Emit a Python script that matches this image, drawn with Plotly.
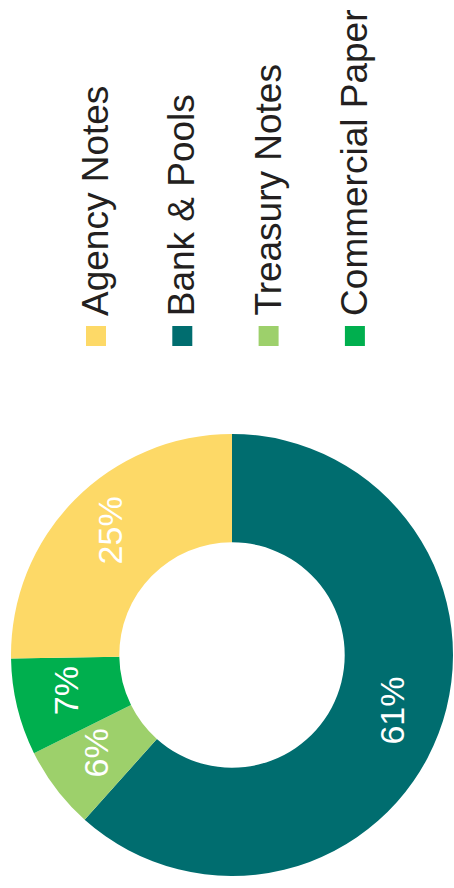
import math
import plotly.graph_objects as go

# ---- data ----
categories = ["Agency Notes", "Bank & Pools", "Treasury Notes", "Commercial Paper"]
values = [25, 61, 6, 7]
colors = ["#FDD967", "#006D6F", "#9DD06B", "#00AF4E"]
# clockwise order of the slices starting at 12 o'clock
pie_order = ["Bank & Pools", "Treasury Notes", "Commercial Paper", "Agency Notes"]

W, H = 454, 888
CX, CY = 232, 655          # donut centre in pixels (from top-left)
R_OUT = 221
HOLE = 0.51
R_IN = R_OUT * HOLE

idx = [categories.index(c) for c in pie_order]
p_labels = [categories[i] for i in idx]
p_values = [values[i] for i in idx]
p_colors = [colors[i] for i in idx]

fig = go.Figure()
fig.add_trace(go.Pie(
    labels=p_labels,
    values=p_values,
    marker=dict(colors=p_colors, line=dict(width=0)),
    hole=HOLE,
    sort=False,
    direction="clockwise",
    rotation=0,
    textinfo="none",
    hoverinfo="skip",
    showlegend=False,
    domain=dict(x=[(CX - R_OUT) / W, (CX + R_OUT) / W],
                y=[(H - CY - R_OUT) / H, (H - CY + R_OUT) / H]),
))

annotations = []
shapes = []

# percentage labels, rotated, at the middle of each slice
total = sum(p_values)
cum = 0.0
r_mid = (R_OUT + R_IN) / 2 + 4
for lab, v in zip(p_labels, p_values):
    a0 = cum / total * 2 * math.pi
    cum += v
    a1 = cum / total * 2 * math.pi
    am = (a0 + a1) / 2
    px = CX + r_mid * math.sin(am)
    py = CY - r_mid * math.cos(am) - 5
    annotations.append(dict(
        x=px / W, y=1 - py / H, xref="paper", yref="paper",
        text=f"{v}%", showarrow=False, textangle=-90,
        xanchor="center", yanchor="middle",
        font=dict(family="Liberation Sans, Arial, sans-serif", size=34, color="white"),
    ))

# custom rotated legend
LEG_X0, LEG_DX = 96, 86.3
SQ = 20
SQ_TOP = 326
for i, (c, col) in enumerate(zip(categories, colors)):
    xc = LEG_X0 + i * LEG_DX
    shapes.append(dict(
        type="rect", xref="paper", yref="paper",
        x0=(xc - SQ / 2) / W, x1=(xc + SQ / 2) / W,
        y0=1 - (SQ_TOP + SQ) / H, y1=1 - SQ_TOP / H,
        fillcolor=col, line=dict(width=0),
    ))
    annotations.append(dict(
        x=(xc - 1) / W, y=1 - 318 / H, xref="paper", yref="paper",
        text=c, showarrow=False, textangle=-90,
        xanchor="center", yanchor="bottom",
        font=dict(family="Liberation Sans, Arial, sans-serif", size=37, color="#231F20"),
    ))

fig.update_layout(
    width=W, height=H,
    margin=dict(l=0, r=0, t=0, b=0),
    paper_bgcolor="white",
    plot_bgcolor="white",
    annotations=annotations,
    shapes=shapes,
)

fig.write_html(
    "out.html",
    config=dict(displayModeBar=False),
    post_script="document.body.style.margin='0px';document.body.style.overflow='hidden';",
)
